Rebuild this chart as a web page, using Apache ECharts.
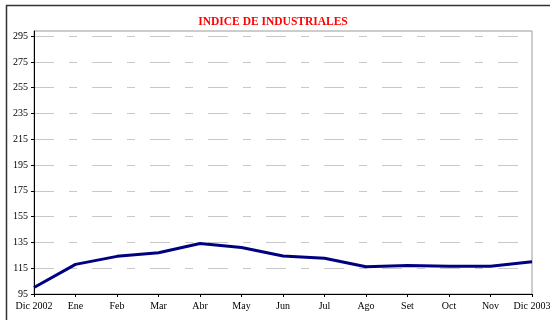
<!DOCTYPE html>
<html>
<head>
<meta charset="utf-8">
<script src="https://cdn.jsdelivr.net/npm/echarts@6/dist/echarts.min.js"></script>
<style>
  html, body { margin: 0; padding: 0; background: #fff; }
  #chart { width: 550px; height: 320px; }
</style>
</head>
<body>
<div id="chart"></div>
<script>
// Índice de industriales, cierre mensual dic 2002 – dic 2003
const months = ['Dic 2002', 'Ene', 'Feb', 'Mar', 'Abr', 'May', 'Jun', 'Jul', 'Ago', 'Set', 'Oct', 'Nov', 'Dic 2003'];
const indexValues = [100, 118, 124.2, 127, 134.2, 131, 124.5, 122.7, 116.2, 117.2, 116.5, 116.5, 120];
const yTicks = [95, 115, 135, 155, 175, 195, 215, 235, 255, 275, 295];

const serif = '"Liberation Serif", "Times New Roman", serif';

const chart = echarts.init(document.getElementById('chart'), null, { renderer: 'canvas' });
chart.setOption({
  animation: false,
  backgroundColor: '#fff',
  title: {
    text: 'INDICE DE INDUSTRIALES',
    left: 268,
    top: 11,
    textAlign: 'center',
    textStyle: { color: '#ff0000', fontFamily: serif, fontWeight: 'bold', fontSize: 11.5 }
  },
  graphic: [
    { type: 'line', shape: { x1: 6, y1: 5.5, x2: 550, y2: 5.5 }, style: { stroke: '#333', lineWidth: 1.5 } },
    { type: 'line', shape: { x1: 6.5, y1: 5, x2: 6.5, y2: 320 }, style: { stroke: '#333', lineWidth: 1.5 } }
  ],
  grid: {
    left: 34, right: 18, top: 31, bottom: 26,
    outerBoundsMode: 'none',
    containLabel: false,
    show: true, borderColor: '#9a9a9a', borderWidth: 1, backgroundColor: 'transparent'
  },
  xAxis: {
    type: 'category',
    data: months,
    boundaryGap: false,
    axisLine: { lineStyle: { color: '#000', width: 1 } },
    axisTick: { alignWithLabel: true, length: 3, lineStyle: { color: '#000' } },
    axisLabel: { color: '#000', fontFamily: serif, fontSize: 10, margin: 7, interval: 0 },
    splitLine: { show: false }
  },
  yAxis: {
    type: 'value',
    min: 95,
    max: 299,
    axisLine: { show: true, lineStyle: { color: '#000', width: 1 } },
    axisTick: { show: true, length: 3, customValues: yTicks, lineStyle: { color: '#000' } },
    axisLabel: { color: '#000', fontFamily: serif, fontSize: 10, margin: 6, customValues: yTicks },
    splitLine: { show: true, lineStyle: { color: '#c8c8c8', width: 1, type: [20, 15, 8, 15] } }
  },
  series: [{
    type: 'line',
    data: indexValues,
    symbol: 'none',
    lineStyle: { color: '#000080', width: 3 },
    z: 5
  }]
});
</script>
</body>
</html>
